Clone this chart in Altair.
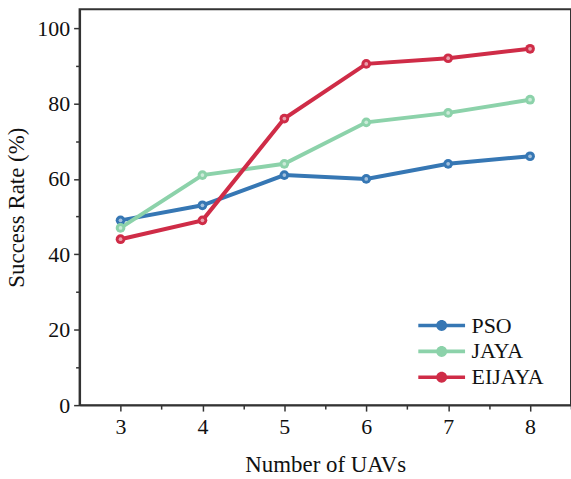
import altair as alt
import pandas as pd

uavs = [3, 4, 5, 6, 7, 8]
pso = [49, 53, 61, 60, 64, 66]
jaya = [47, 61, 64, 75, 77.5, 81]
eijaya = [44, 49, 76, 90.5, 92, 94.5]
series = ["PSO", "JAYA", "EIJAYA"]
colors = ["#3677b4", "#8cd2aa", "#cf2c47"]

rows = []
for name, vals in zip(series, [pso, jaya, eijaya]):
    for i, (u, v) in enumerate(zip(uavs, vals)):
        rows.append({"uav": u, "rate": v, "alg": name})
df = pd.DataFrame(rows)

minor_x = [3.5, 4.5, 5.5, 6.5, 7.5, 8.5]
minor_y = [10, 30, 50, 70, 90]
FONT = "Liberation Serif"
AX = "#333333"

xscale = alt.Scale(domain=[2.5, 8.5], nice=False, zero=False)
yscale = alt.Scale(domain=[0, 105], nice=False)
cscale = alt.Scale(domain=series, range=colors)

legend_path = ("M-2.35,-0.18 L-0.5,-0.18 L-0.5,0.18 L-2.35,0.18 Z "
               "M0.5,-0.18 L2.35,-0.18 L2.35,0.18 L0.5,0.18 Z "
               "M0.55,0 A0.55,0.55 0 1,1 -0.55,0 A0.55,0.55 0 1,1 0.55,0 Z")
leg = alt.Legend(title=None, orient="none", legendX=353, legendY=307,
                 symbolType=legend_path, symbolSize=400,
                 symbolStrokeWidth=0, labelFontSize=22,
                 labelFont=FONT, labelColor="#111",
                 rowPadding=4, labelOffset=19, symbolOpacity=1, padding=0)

base = alt.Chart(df)

xmajor = alt.X("uav:Q", scale=xscale, title="Number of UAVs",
               axis=alt.Axis(orient="bottom", values=uavs, format="d", tickSize=6, tickWidth=1.5,
                             labelFontSize=22, titleFontSize=23, labelPadding=6,
                             titlePadding=16, grid=False))
ymajor = alt.Y("rate:Q", scale=yscale, title="Success Rate (%)",
               axis=alt.Axis(orient="left", values=[0, 20, 40, 60, 80, 100], tickSize=6, tickWidth=1.5,
                             labelFontSize=22, titleFontSize=23, labelPadding=4,
                             titlePadding=8, grid=False))

lines = base.mark_line(strokeWidth=4).encode(
    x=xmajor, y=ymajor,
    color=alt.Color("alg:N", scale=cscale, legend=leg),
    order=alt.Order("uav:Q"),
    detail="alg:N",
)

points = base.mark_point(filled=True, size=95, opacity=1).encode(
    x=alt.X("uav:Q", scale=xscale, axis=None),
    y=alt.Y("rate:Q", scale=yscale, axis=None),
    color=alt.Color("alg:N", scale=cscale, legend=leg),
)

hl = base.mark_point(filled=True, size=14, color="white", opacity=0.55).encode(
    x=alt.X("uav:Q", scale=xscale, axis=None),
    y=alt.Y("rate:Q", scale=yscale, axis=None),
)

minx = alt.Chart(pd.DataFrame({"mx": minor_x})).mark_tick(opacity=0).encode(
    x=alt.X("mx:Q", scale=xscale, title=None,
            axis=alt.Axis(orient="bottom", values=minor_x, labels=False, domain=False, tickSize=4,
                          tickWidth=1.5, grid=False, title=None)),
)
miny = alt.Chart(pd.DataFrame({"my": minor_y})).mark_tick(opacity=0).encode(
    y=alt.Y("my:Q", scale=yscale, title=None,
            axis=alt.Axis(orient="left", values=minor_y, labels=False, domain=False, tickSize=4,
                          tickWidth=1.5, grid=False, title=None)),
)

chart = alt.layer(lines, points, hl, minx, miny).resolve_axis(
    x="independent", y="independent"
).properties(
    width=494, height=398,
    autosize=alt.AutoSizeParams(type="none"),
    padding={"left": 80, "top": 8, "right": 0, "bottom": 73},
    background="white",
).configure_axis(
    labelFont=FONT, titleFont=FONT, labelColor="#111", titleColor="#111",
    domainColor=AX, tickColor=AX, domainWidth=2, titleFontWeight="normal",
).configure_view(
    stroke=AX, strokeWidth=2,
)

chart.save("out.html", embed_options={"renderer": "svg", "actions": False})
